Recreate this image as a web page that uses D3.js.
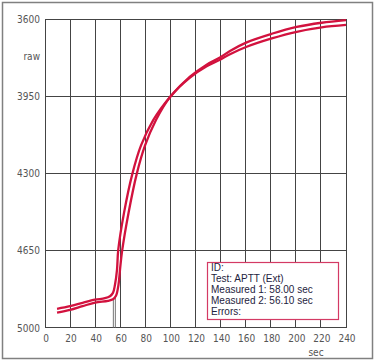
<!DOCTYPE html>
<meta charset="utf-8">
<style>
body { margin: 0; background: #fff; }
svg { display: block; }
.tick-label { font: 10px "Liberation Sans Narrow", "DejaVu Sans Condensed", sans-serif; fill: #555; }
.legend text { font: 10px "Liberation Sans", Arial, sans-serif; fill: #1e2340; }
.grid line { stroke: #444; stroke-width: 1; shape-rendering: crispEdges; }
.curve { fill: none; stroke: #d2123e; stroke-width: 2.3px; }
</style>
<body>
<div id="chart"></div>
<script src="https://cdnjs.cloudflare.com/ajax/libs/d3/7.8.5/d3.min.js"></script>
<script>
// ticks
var xTicks = [0, 20, 40, 60, 80, 100, 120, 140, 160, 180, 200, 220, 240];
var yTicks = [3600, 3950, 4300, 4650, 5000];

// curve 1 (rises first)
var time1 = [9.6, 20, 30, 39.9, 47.8, 51.8, 54.2, 55.8, 57.4, 58.4, 63.0, 69.6, 76.5, 86.4, 99.7, 115.6, 128.9, 139.5, 147.5, 160.8, 180.8, 200.7, 220.6, 240];
var raw1 = [4915, 4903, 4888, 4874, 4867, 4858, 4843, 4806, 4738, 4648, 4480, 4304, 4175, 4058, 3954, 3862, 3807, 3775, 3745, 3706, 3667, 3636, 3617, 3605];

// curve 2
var time2 = [9.6, 20, 30, 39.9, 50.2, 54.2, 56.6, 58.6, 59.8, 61.6, 66.6, 73.1, 79.7, 88.5, 99.7, 115.6, 128.9, 139.5, 147.5, 160.8, 180.8, 200.7, 220.6, 240];
var raw2 = [4933, 4920, 4903, 4887, 4879, 4872, 4856, 4806, 4738, 4648, 4480, 4304, 4175, 4058, 3954, 3866, 3815, 3785, 3760, 3726, 3688, 3658, 3638, 3627];

// detection markers
var markerTimes = [54.5, 56.1];
var markerTops = [4870, 4862];

var legendLines = ["ID:", "Test: APTT (Ext)", "Measured 1: 58.00 sec", "Measured 2: 56.10 sec", "Errors:"];

var W = 375, H = 363;
var svg = d3.select("#chart").append("svg").attr("width", W).attr("height", H);

// outer frame
svg.append("rect")
    .attr("x", 2.5).attr("y", 2.5)
    .attr("width", 370).attr("height", 356)
    .attr("fill", "none").attr("stroke", "#808080").attr("stroke-width", 1.5);

var x = d3.scaleLinear().domain([0, 240]).range([45, 346]);
var y = d3.scaleLinear().domain([3600, 5000]).range([19, 327.5]);

var grid = svg.append("g").attr("class", "grid");
grid.selectAll(".v").data(xTicks).enter().append("line")
    .attr("x1", d => x(d)).attr("x2", d => x(d))
    .attr("y1", y(3600)).attr("y2", y(5000));
grid.selectAll(".h").data(yTicks).enter().append("line")
    .attr("x1", x(0)).attr("x2", x(240))
    .attr("y1", d => y(d)).attr("y2", d => y(d));

// tick labels
svg.selectAll(".ylab").data(yTicks).enter().append("text")
    .attr("class", "tick-label")
    .attr("x", 40).attr("y", d => y(d) + 4)
    .attr("text-anchor", "end")
    .text(d => d);
svg.selectAll(".xlab").data(xTicks).enter().append("text")
    .attr("class", "tick-label")
    .attr("x", d => x(d) + 1).attr("y", 342)
    .attr("text-anchor", "middle")
    .text(d => d);

svg.append("text").attr("class", "tick-label")
    .attr("x", 40).attr("y", 60).attr("text-anchor", "end").text("raw");
svg.append("text").attr("class", "tick-label")
    .attr("x", 316).attr("y", 356).attr("text-anchor", "middle").text("sec");

// markers
svg.selectAll(".marker").data(markerTimes).enter().append("line")
    .attr("x1", d => x(d)).attr("x2", d => x(d))
    .attr("y1", y(5000)).attr("y2", (d, i) => y(markerTops[i]))
    .attr("stroke", "#777").attr("stroke-width", 1);

var line = d3.line().curve(d3.curveCatmullRom.alpha(0.5))
    .x(d => x(d[0])).y(d => y(d[1]));

svg.append("path").attr("class", "curve")
    .attr("d", line(d3.zip(time2, raw2)));
svg.append("path").attr("class", "curve")
    .attr("d", line(d3.zip(time1, raw1)));

// legend box
var legend = svg.append("g").attr("class", "legend");
legend.append("rect")
    .attr("x", 207.5).attr("y", 262.5)
    .attr("width", 131).attr("height", 57)
    .attr("fill", "#fff").attr("stroke", "#d43a64").attr("stroke-width", 1.2);
legend.selectAll("text").data(legendLines).enter().append("text")
    .attr("x", 211).attr("y", (d, i) => 271 + i * 11)
    .text(d => d);
</script>
</body>
